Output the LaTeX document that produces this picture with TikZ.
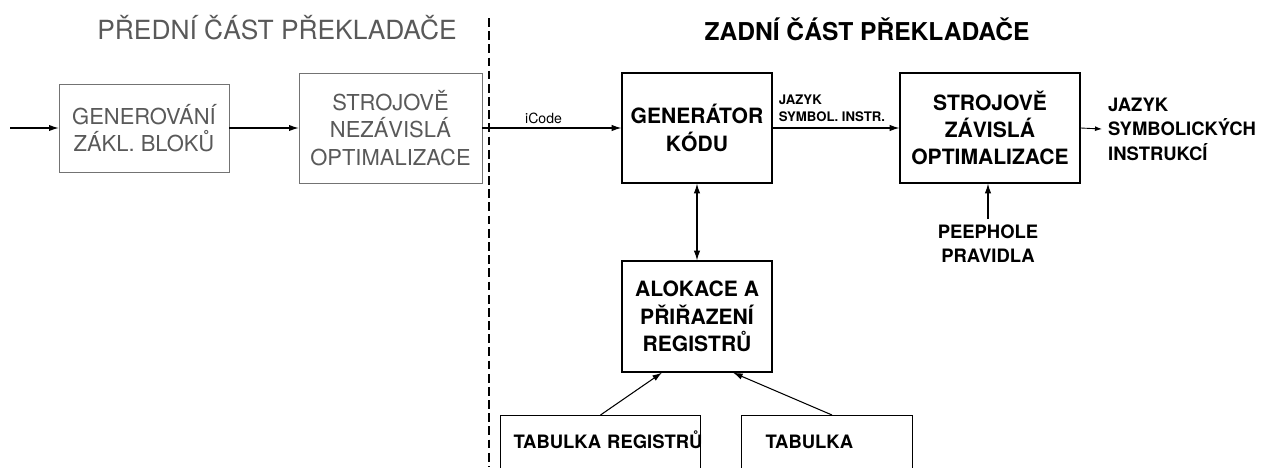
\documentclass[tikz,border=0pt]{standalone}
\usepackage{fontspec}
\setmainfont{TeX Gyre Heros}
\usetikzlibrary{arrows.meta}

\tikzset{
	frontbox/.style={draw=black!55, text=black!65, align=center, inner sep=0pt,
		font=\fontsize{12.5}{15.5}\selectfont},
	backbox/.style={draw, line width=0.7pt, align=center, inner sep=0pt,
		font=\bfseries\fontsize{12}{15.5}\selectfont},
	tablebox/.style={draw, line width=0.6pt, anchor=north west, align=left, inner ysep=0pt,
		text height=0.66cm, text depth=2cm, font=\bfseries\fontsize{10.5}{13}\selectfont},
	flow/.style={line width=0.6pt, -{Latex[length=5.5pt,width=3.6pt]}},
	twoway/.style={line width=0.6pt, {Latex[length=5.5pt,width=3.6pt]}-{Latex[length=5.5pt,width=3.6pt]}},
	smallflow/.style={line width=0.5pt, -{Latex[length=4pt,width=2.8pt]}},
	tag/.style={font=\bfseries\fontsize{7.5}{9.5}\selectfont, align=left},
}

\begin{document}
\begin{tikzpicture}[x=0.02cm, y=-0.02cm]

	\clip (0,0) rectangle (1269,467);

	\node[text=black!65, font=\fontsize{15}{18}\selectfont] (front) at (277,28) {PŘEDNÍ ČÁST PŘEKLADAČE};
	\node[font=\bfseries\fontsize{14}{17}\selectfont] (back) at (867,29) {ZADNÍ ČÁST PŘEKLADAČE};
	\draw[line width=0.6pt, dash pattern=on 5pt off 2.5pt] (489,18) -- (489,467);

	\node[frontbox, minimum width=3.4cm, minimum height=1.76cm] (blocks) at (144,128) {GENEROVÁNÍ\\ZÁKL. BLOKŮ};
	\node[frontbox, minimum width=3.66cm, minimum height=2.2cm] (indep) at (390.5,128) {STROJOVĚ\\NEZÁVISLÁ\\OPTIMALIZACE};
	\node[backbox, minimum width=3.0cm, minimum height=2.2cm] (codegen) at (697,128) {GENERÁTOR\\KÓDU};
	\node[backbox, minimum width=3.6cm, minimum height=2.2cm] (dep) at (990,128) {STROJOVĚ\\ZÁVISLÁ\\OPTIMALIZACE};
	\node[backbox, minimum width=3.0cm, minimum height=2.22cm] (regalloc) at (697,316.5) {ALOKACE A\\PŘIŘAZENÍ\\REGISTRŮ};
	\node[tablebox, inner xsep=0.26cm, text width=3.48cm] (regtable) at (500,415) {\mbox{TABULKA REGISTRŮ}};
	\node[tablebox, inner xsep=0.48cm, text width=2.46cm] (table) at (741,415) {TABULKA};

	\node[font=\bfseries\fontsize{10.5}{14}\selectfont, align=left, anchor=west] (asm) at (1102,129) {JAZYK\\SYMBOLICKÝCH\\INSTRUKCÍ};
	\node[font=\bfseries\fontsize{10.5}{13.6}\selectfont, align=center] (peephole) at (988,244) {PEEPHOLE\\PRAVIDLA};
	\coordinate (input) at (10,128);

	\draw[flow] (input) -- (blocks.west);
	\draw[flow] (blocks.east) -- (indep.west);
	\draw[flow] (indep.east) -- node[pos=.44, above, inner sep=2pt, font=\fontsize{8}{9}\selectfont] {iCode} (codegen.west);
	\draw[flow] (codegen.east) -- node[pos=0, anchor=south west, tag] {JAZYK\\SYMBOL. INSTR.} (dep.west);
	\draw[smallflow] (dep.east) -- (asm.west);
	\draw[flow] (peephole.north) -- (peephole.north |- dep.south);
	\draw[twoway] (codegen.south) -- (regalloc.north);
	\draw[flow] (regtable.north) -- ([xshift=-0.7cm]regalloc.south);
	\draw[flow] ([xshift=0.1cm]table.north) -- ([xshift=0.72cm]regalloc.south);

\end{tikzpicture}
\end{document}
